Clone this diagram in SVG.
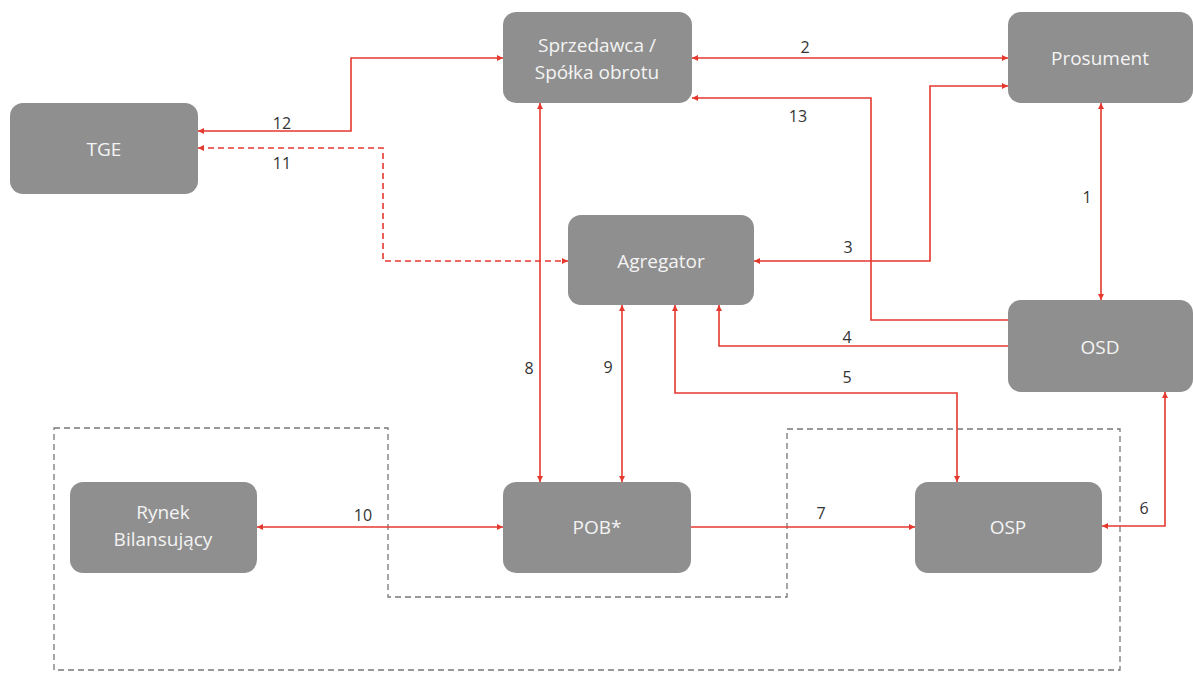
<svg xmlns="http://www.w3.org/2000/svg" width="1193" height="674" viewBox="0 0 1193 674">
<style>
.node rect{fill:#8f8f8f}
.node text{fill:#f4f4f4;font-family:"Open Sans","Liberation Sans",sans-serif;font-size:19px;text-anchor:middle;dominant-baseline:central}
.c{fill:none;stroke:#e5392f;stroke-width:1.6}
.d{stroke-dasharray:6 4}
.lbl{fill:#333;font-family:"Open Sans","Liberation Sans",sans-serif;font-size:16px;text-anchor:middle;dominant-baseline:central}
.grp{fill:none;stroke:#777;stroke-width:1.3;stroke-dasharray:6 4}
</style>
<defs>
<marker id="a" viewBox="0 0 10 10" refX="10" refY="5" markerWidth="6" markerHeight="6" markerUnits="userSpaceOnUse" orient="auto-start-reverse">
<path d="M0,0 L10,5 L0,10 z" fill="#e5392f"/>
</marker>
</defs>
<rect width="1193" height="674" fill="#fff"/>
<path class="grp" d="M54,428 H388 V597 H787 V429 H1120 V670 H54 Z"/>
<g id="connectors">
<path class="c" d="M198,131 H351 V58 H503" marker-start="url(#a)" marker-end="url(#a)"/>
<path class="c d" d="M198,148 H383 V261 H568" marker-start="url(#a)" marker-end="url(#a)"/>
<path class="c" d="M692,58 H1008" marker-start="url(#a)" marker-end="url(#a)"/>
<path class="c" d="M1008,320 H871 V98 H692" marker-end="url(#a)"/>
<path class="c" d="M754,261 H930 V86 H1008" marker-start="url(#a)" marker-end="url(#a)"/>
<path class="c" d="M1101,103 V300" marker-start="url(#a)" marker-end="url(#a)"/>
<path class="c" d="M1008,346 H719 V305" marker-end="url(#a)"/>
<path class="c" d="M675,305 V393 H957 V482" marker-start="url(#a)" marker-end="url(#a)"/>
<path class="c" d="M1165,392 V526 H1102" marker-start="url(#a)" marker-end="url(#a)"/>
<path class="c" d="M691,527 H915" marker-end="url(#a)"/>
<path class="c" d="M540,103 V482" marker-start="url(#a)" marker-end="url(#a)"/>
<path class="c" d="M622,305 V482" marker-start="url(#a)" marker-end="url(#a)"/>
<path class="c" d="M257,527 H503" marker-start="url(#a)" marker-end="url(#a)"/>
<text class="lbl" x="282" y="123">12</text>
<text class="lbl" x="282" y="163">11</text>
<text class="lbl" x="805" y="47">2</text>
<text class="lbl" x="798" y="116">13</text>
<text class="lbl" x="848" y="247">3</text>
<text class="lbl" x="1087" y="197">1</text>
<text class="lbl" x="847" y="337">4</text>
<text class="lbl" x="847" y="377">5</text>
<text class="lbl" x="1144" y="508">6</text>
<text class="lbl" x="821" y="513">7</text>
<text class="lbl" x="529" y="368">8</text>
<text class="lbl" x="608" y="367">9</text>
<text class="lbl" x="363" y="515">10</text>
</g>
<g id="tge" class="node"><rect x="10" y="103" width="188" height="91" rx="13"/><text x="104" y="149">TGE</text></g>
<g id="sprzedawca" class="node"><rect x="503" y="12" width="189" height="91" rx="13"/><text x="597" y="45">Sprzedawca /</text><text x="597" y="72">Spółka obrotu</text></g>
<g id="prosument" class="node"><rect x="1008" y="12" width="185" height="91" rx="13"/><text x="1100" y="58">Prosument</text></g>
<g id="agregator" class="node"><rect x="568" y="215" width="186" height="90" rx="13"/><text x="661" y="261">Agregator</text></g>
<g id="osd" class="node"><rect x="1008" y="300" width="185" height="92" rx="13"/><text x="1100" y="347">OSD</text></g>
<g id="rynek" class="node"><rect x="70" y="482" width="187" height="91" rx="13"/><text x="163" y="512">Rynek</text><text x="163" y="539">Bilansujący</text></g>
<g id="pob" class="node"><rect x="503" y="482" width="188" height="91" rx="13"/><text x="597" y="527">POB*</text></g>
<g id="osp" class="node"><rect x="915" y="482" width="187" height="91" rx="13"/><text x="1008" y="527">OSP</text></g>
</svg>
